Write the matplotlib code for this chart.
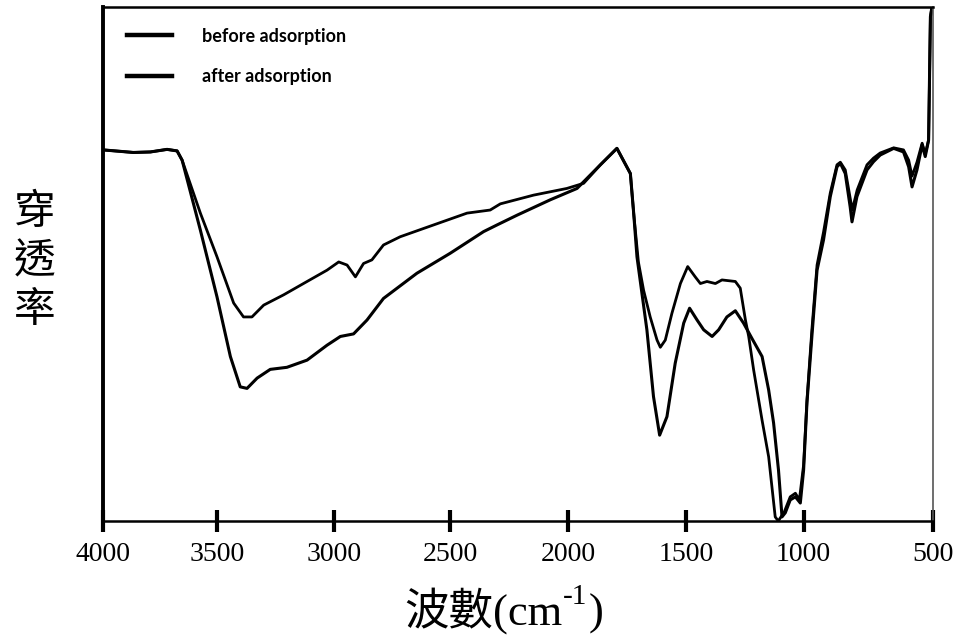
import numpy as np
import matplotlib
matplotlib.use('Agg')
import matplotlib.pyplot as plt

# x軸刻度 (波數) 以及原圖上刻度所在的像素位置 -- 掃描圖的x軸不是完全線性
tick_wn = [4000, 3500, 3000, 2500, 2000, 1500, 1000, 500]
tick_px = [102.7, 216.7, 334, 450, 568, 686, 803.3, 932.7]

# before adsorption (下面那條)
wn_before = [4000, 3867, 3792, 3719, 3675, 3653, 3573, 3500, 3443, 3401, 3372, 3329, 3273, 3202,
             3116, 3031, 2974, 2917, 2859, 2788, 2644, 2500, 2359, 2302, 2217, 2076, 1963, 1864,
             1794, 1737, 1723, 1709, 1667, 1639, 1613, 1582, 1547, 1511, 1486, 1454, 1426, 1390,
             1362, 1327, 1291, 1256, 1220, 1177, 1149, 1128, 1107, 1092, 1078, 1057, 1035, 1014,
             1000, 987, 968, 948, 923, 897, 871, 858, 839, 820, 813, 794, 755, 730, 704, 652,
             614, 594, 581, 562, 542, 530, 517, 510, 504]
t_before = [72.2, 71.7, 71.8, 72.3, 72.0, 70.2, 56.6, 43.6, 32.0, 26.1, 25.8, 27.8, 29.5, 29.9,
            31.3, 34.2, 35.9, 36.4, 39.1, 43.3, 48.2, 52.1, 56.3, 57.6, 59.5, 62.5, 64.7, 69.3,
            72.5, 67.6, 59.9, 51.4, 37.2, 24.2, 16.7, 20.3, 30.7, 38.5, 41.4, 39.1, 37.2, 35.9,
            37.2, 39.7, 40.9, 38.5, 35.5, 32.0, 25.5, 19.1, 9.9, 0.8, 1.6, 4.1, 4.7, 3.5,
            9.9, 23.0, 35.9, 48.8, 54.7, 63.1, 68.9, 69.6, 67.6, 61.1, 58.2, 63.1, 68.3, 69.9, 71.2, 72.5,
            71.8, 68.9, 65.0, 68.3, 73.2, 70.9, 74.1, 98.1, 100]

# after adsorption (上面那條)
wn_after = [4000, 3867, 3792, 3719, 3675, 3653, 3573, 3500, 3429, 3387, 3351, 3301, 3216, 3116,
            3031, 2981, 2945, 2909, 2874, 2838, 2788, 2716, 2572, 2429, 2331, 2288, 2147, 2006,
            1935, 1864, 1794, 1737, 1723, 1703, 1681, 1653, 1624, 1610, 1589, 1561, 1525, 1494,
            1462, 1440, 1412, 1376, 1348, 1291, 1270, 1248, 1234, 1213, 1177, 1149, 1121, 1108,
            1082, 1057, 1035, 1018, 1000, 987, 968, 948, 923, 897, 871, 858, 839, 820, 812, 793,
            755, 730, 704, 652, 614, 594, 581, 562, 542, 530, 517, 510, 504]
t_after = [72.2, 71.7, 71.8, 72.3, 72.0, 70.2, 59.9, 51.4, 42.4, 39.7, 39.7, 42.0, 44.0, 46.6,
           48.8, 50.4, 49.8, 47.5, 50.1, 50.8, 53.7, 55.3, 57.6, 59.9, 60.5, 61.7, 63.4, 64.7,
           65.7, 69.3, 72.5, 67.6, 59.9, 50.4, 44.9, 39.7, 35.2, 33.8, 35.2, 40.4, 46.2, 49.5,
           47.5, 46.2, 46.6, 46.2, 46.9, 46.6, 45.3, 39.1, 35.9, 29.4, 19.6, 12.5, 0.8, 0,
           1.8, 4.7, 5.4, 4.1, 10.9, 23.5, 37.2, 49.8, 56.2, 63.8, 69.3, 69.8, 68.3, 62.8, 60.5, 64.4,
           69.3, 70.6, 71.6, 72.6, 72.2, 70.2, 67.1, 69.8, 73.5, 71.4, 74.1, 98, 100]

# 分段線性的x軸
w_asc = np.array(tick_wn[::-1], dtype=float)
p_asc = np.array(tick_px[::-1], dtype=float)
px_inc = np.array(tick_px, dtype=float)
wn_dec = np.array(tick_wn, dtype=float)


def forward(w):
    return -np.interp(w, w_asc, p_asc)


def inverse(v):
    return np.interp(-np.asarray(v), px_inc, wn_dec)


W, H = 954, 644
fig = plt.figure(figsize=(W / 100, H / 100), dpi=100)
ax = fig.add_axes([103 / W, 1 - 521 / H, 830 / W, 514 / H])

l1, = ax.plot(wn_before, t_before, color='black', lw=2.2, label='before adsorption')
l2, = ax.plot(wn_after, t_after, color='black', lw=2.0, label='after adsorption')

ax.set_xscale('function', functions=(forward, inverse))
ax.set_xlim(4000, 500)
ax.set_ylim(0, 100)
ax.set_xticks(tick_wn)
ax.set_xticklabels([str(v) for v in tick_wn], family='Liberation Serif', fontsize=20)
ax.tick_params(axis='x', direction='inout', length=16, width=3, pad=7)
ax.set_yticks([])

ax.spines['left'].set_linewidth(2.8)
ax.spines['bottom'].set_linewidth(1.8)
ax.spines['top'].set_linewidth(1.8)
ax.spines['right'].set_linewidth(1.2)
ax.spines['right'].set_color('#555555')

leg = ax.legend(handles=[l1, l2], loc='upper left', bbox_to_anchor=(0.029, 0.96), frameon=False,
                borderpad=0, borderaxespad=0, handlelength=2.5, handletextpad=1.65, labelspacing=1.3,
                prop={'family': 'Lato', 'weight': 'bold', 'size': 13})
for h in leg.get_lines():
    h.set_linewidth(3.2)

fig.text(35 / W, 1 - 262 / H, '穿\n透\n率', fontsize=30, family=['Noto Sans CJK TC'],
         ha='center', va='center', linespacing=1.25)

# x軸標題: 波數(cm^-1), 上標分開畫
renderer = fig.canvas.get_renderer()
base_y = 1 - 625 / H
t1 = fig.text(404 / W, base_y, '波數(cm', fontsize=32,
              family=['Liberation Serif', 'Noto Sans CJK TC'], va='baseline')
bb1 = t1.get_window_extent(renderer)
t2 = fig.text(bb1.x1 / W + 1 / W, base_y + 21 / H, '-1', fontsize=21,
              family='Liberation Serif', va='baseline')
bb2 = t2.get_window_extent(renderer)
fig.text(bb2.x1 / W + 1 / W, base_y, ')', fontsize=32, family='Liberation Serif', va='baseline')

plt.savefig('out.png', dpi=100)
